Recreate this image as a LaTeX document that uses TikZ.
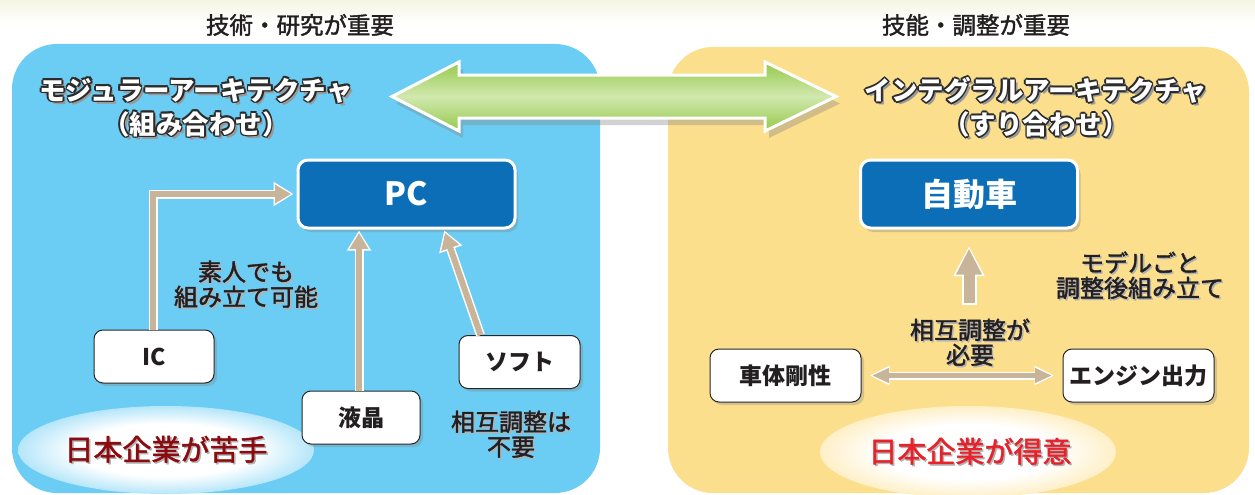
\documentclass[tikz,border=0pt]{standalone}
\usepackage{fontspec}
\usetikzlibrary{arrows.meta,shadows,calc}
\newfontfamily\jp{Noto Sans CJK JP}
\newfontfamily\jpm{Noto Sans CJK JP}[FakeBold=1.6]
\definecolor{panelb}{HTML}{6BCDF4}
\definecolor{panely}{HTML}{FCDF8D}
\definecolor{boxblue}{HTML}{0C6EB7}
\definecolor{tanc}{HTML}{C8B599}
\definecolor{grdark}{HTML}{8CC63F}
\definecolor{grlight}{HTML}{D2E8AE}
\definecolor{olc}{HTML}{2B2B2B}
\definecolor{txt}{HTML}{231F20}
\definecolor{dred}{HTML}{8C0B10}
\definecolor{bred}{HTML}{E8222B}
\definecolor{topc}{HTML}{F5F5E3}
\pgfdeclareradialshading{glowb}{\pgfpoint{0bp}{0bp}}{color(0bp)=(white); color(15bp)=(white); color(35bp)=(panelb); color(50bp)=(panelb)}
\pgfdeclareradialshading{glowy}{\pgfpoint{0bp}{0bp}}{color(0bp)=(white); color(15bp)=(white); color(35bp)=(panely); color(50bp)=(panely)}
\pgfdeclareverticalshading{grsh}{100bp}{color(0bp)=(grdark); color(22bp)=(grdark); color(50bp)=(grlight); color(78bp)=(grdark); color(100bp)=(grdark)}
\newcommand\olt[1]{%
 \rlap{\kern3pt\raisebox{-3pt}{\textcolor{black!40}{#1}}}%
 \rlap{\kern-1.7pt\textcolor{olc}{#1}}%
 \rlap{\kern1.7pt\textcolor{olc}{#1}}%
 \rlap{\raisebox{1.7pt}{\textcolor{olc}{#1}}}%
 \rlap{\raisebox{-1.7pt}{\textcolor{olc}{#1}}}%
 \rlap{\kern-1.2pt\raisebox{1.2pt}{\textcolor{olc}{#1}}}%
 \rlap{\kern1.2pt\raisebox{1.2pt}{\textcolor{olc}{#1}}}%
 \rlap{\kern-1.2pt\raisebox{-1.2pt}{\textcolor{olc}{#1}}}%
 \rlap{\kern1.2pt\raisebox{-1.2pt}{\textcolor{olc}{#1}}}%
 \textcolor{white}{#1}}
\newcommand\shd[1]{\rlap{\kern1.5pt\raisebox{-1.5pt}{\textcolor{black!30}{#1}}}#1}
\tikzset{
 panelshape/.style={rounded corners=45pt},
 bluebox/.style={draw=white, line width=3pt, fill=boxblue, rounded corners=10pt,
   minimum width=217pt, minimum height=68pt, text=white,
   font=\jp\bfseries\fontsize{32}{34}\selectfont,
   drop shadow={shadow xshift=3pt, shadow yshift=-4pt, opacity=0.35}},
 wbox/.style={draw=black!85, line width=1pt, fill=white, rounded corners=9pt,
   minimum height=53pt, text=txt, font=\jp\bfseries\fontsize{23}{25}\selectfont,
   drop shadow={shadow xshift=3pt, shadow yshift=-3pt, opacity=0.3}},
 lbl/.style={text=txt, align=center, font=\jpm\fontsize{24}{25}\selectfont},
 tw/.style={line width=9pt, white, -{Triangle[length=20pt,width=23pt]}},
 tt/.style={line width=6pt, tanc, -{Triangle[length=16pt,width=18pt]}},
}
\begin{document}
\begin{tikzpicture}[x=1pt,y=-1pt]
\useasboundingbox (0,0) rectangle (1255,495);
\fill[white] (0,0) rectangle (1255,495);
\fill[top color=topc, bottom color=white] (0,0) rectangle (1255,24);
% panels
\fill[panelb, panelshape] (12,44) rectangle (600,493);
\fill[panely, panelshape] (668,47) rectangle (1249,493);
% titles
\node[text=txt, font=\jpm\fontsize{23.5}{25}\selectfont] (ltitle) at (300,25) {技術・研究が重要};
\node[text=txt, font=\jpm\fontsize{23.5}{25}\selectfont] (rtitle) at (976,25) {技能・調整が重要};
% glow
\path[shading=glowb] (166,450) ellipse [x radius=148, y radius=44];
\path[shading=glowy] (968,452) ellipse [x radius=148, y radius=46];
% green double arrow
\path[shading=grsh, draw=white, line width=3pt, line join=miter,
  drop shadow={shadow xshift=4pt, shadow yshift=-7pt, opacity=0.35}]
  (392,96.5) -- (459,62) -- (459,75) -- (765,75) -- (765,62) -- (836,96.5)
  -- (765,131) -- (765,118) -- (459,118) -- (459,131) -- cycle;
% architecture titles
\node[align=center, font=\jp\bfseries\fontsize{26.5}{34}\selectfont] (mod) at (196,108)
  {\olt{モジュラーアーキテクチャ}\\\olt{（組み合わせ）}};
\node[align=center, font=\jp\bfseries\fontsize{26.5}{34}\selectfont] (integ) at (1036,108)
  {\olt{インテグラルアーキテクチャ}\\\olt{（すり合わせ）}};
% boxes
\node[bluebox] (pc) at (406.5,194) {PC};
\node[bluebox] (car) at (969,194) {自動車};
\node[wbox, minimum width=120pt] (ic) at (154,356.5) {IC};
\node[wbox, minimum width=118pt] (lcd) at (361,417.5) {液晶};
\node[wbox, minimum width=121pt] (soft) at (519.5,362) {ソフト};
\node[wbox, minimum width=151pt] (body) at (785.5,375.5) {車体剛性};
\node[wbox, minimum width=151pt] (eng) at (1138.5,375.5) {エンジン出力};
% connector coordinates
\coordinate (icup) at ($(ic.north)+(-1,0)$);
\coordinate (lcdup) at ($(lcd.north)+(-2,0)$);
\coordinate (softup) at ($(soft.north west)!0.18!(soft.north east)$);
\coordinate (pcsoft) at ($(pc.south west)!0.67!(pc.south east)$);
\coordinate (upstart) at ($(car.south)+(0,75.5)$);
\coordinate (uptip) at ($(car.south)+(0,16.5)$);
% tan arrows (white rim then tan core)
\draw[tw, shorten >=3pt] (icup) |- (pc.west);
\draw[tt, shorten >=5.5pt] (icup) |- (pc.west);
\draw[tw, shorten >=1pt] (lcdup) -- (lcdup |- pc.south);
\draw[tt, shorten >=3.5pt] (lcdup) -- (lcdup |- pc.south);
\draw[tw, shorten >=1pt] (softup) -- (pcsoft);
\draw[tt, shorten >=3.5pt] (softup) -- (pcsoft);
\draw[line width=15pt, white, -{Triangle[length=30pt,width=29pt]}] (upstart) -- (uptip);
\draw[line width=11pt, tanc, shorten >=2.5pt, shorten <=2pt, -{Triangle[length=26pt,width=24pt]}] (upstart) -- (uptip);
\draw[line width=8pt, white, {Triangle[length=20pt,width=18pt]}-{Triangle[length=20pt,width=18pt]}, shorten <=8pt, shorten >=8pt] (body.east) -- (eng.west);
\draw[line width=5pt, tanc, {Triangle[length=17pt,width=14pt]}-{Triangle[length=17pt,width=14pt]}, shorten <=10.5pt, shorten >=10.5pt] (body.east) -- (eng.west);
% labels
\node[lbl] (amateur) at (246,285) {\shd{素人でも}\\\shd{組み立て可能}};
\node[lbl] (noadj) at (511,435) {\shd{相互調整は}\\\shd{不要}};
\node[lbl] (model) at (1140,276) {\shd{モデルごと}\\\shd{調整後組み立て}};
\node[lbl] (needadj) at (970,343) {\shd{相互調整が}\\\shd{必要}};
\node[text=dred, font=\jpm\fontsize{29}{30}\selectfont] (weak) at (166,450) {\shd{日本企業が苦手}};
\node[text=bred, font=\jpm\fontsize{29}{30}\selectfont] (strong) at (970,452) {\shd{日本企業が得意}};
\end{tikzpicture}
\end{document}
